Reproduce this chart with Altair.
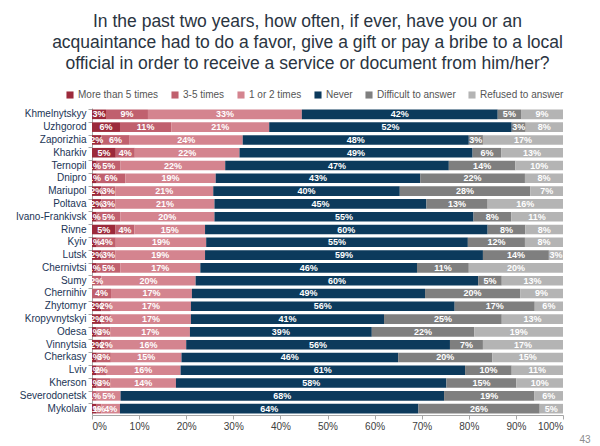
import altair as alt
import pandas as pd

cities = ["Khmelnytskyy", "Uzhgorod", "Zaporizhia", "Kharkiv", "Ternopil", "Dnipro",
          "Mariupol", "Poltava", "Ivano-Frankivsk", "Rivne", "Kyiv", "Lutsk",
          "Chernivtsi", "Sumy", "Chernihiv", "Zhytomyr", "Kropyvnytskyi", "Odesa",
          "Vinnytsia", "Cherkasy", "Lviv", "Kherson", "Severodonetsk", "Mykolaiv"]

more_than_5 = [3, 6, 2, 5, 1, 1, 2, 2, 1, 5, 1, 2, 1, 0, 0, 2, 2, 1, 2, 1, 1, 1, 0, 1]
three_to_5 = [9, 11, 6, 4, 5, 6, 3, 3, 5, 4, 4, 3, 5, 2, 4, 2, 2, 3, 2, 3, 2, 3, 1, 1]
one_or_2 = [33, 21, 24, 22, 22, 19, 21, 21, 20, 15, 19, 19, 17, 20, 17, 17, 17, 17, 16, 15, 16, 14, 5, 4]
never = [42, 52, 48, 49, 47, 43, 40, 45, 55, 60, 55, 59, 46, 60, 49, 56, 41, 39, 56, 46, 61, 58, 68, 64]
difficult = [5, 3, 3, 6, 14, 22, 28, 13, 8, 8, 12, 14, 11, 5, 20, 17, 25, 22, 7, 20, 10, 15, 19, 26]
refused = [9, 8, 17, 13, 10, 8, 7, 16, 11, 8, 8, 3, 20, 13, 9, 6, 13, 19, 17, 15, 11, 10, 6, 5]

series_names = ["More than 5 times", "3-5 times", "1 or 2 times", "Never",
                "Difficult to answer", "Refused to answer"]
series_values = [more_than_5, three_to_5, one_or_2, never, difficult, refused]
colors = ["#9c2a3b", "#c0606e", "#d4848f", "#0c3a5c", "#7f7f7f", "#b4b4b4"]

title_lines = ["In the past two years, how often, if ever, have you or an",
               "acquaintance had to do a favor, give a gift or pay a bribe to a local",
               "official in order to receive a service or document from him/her?"]
tick_values = [0, 0.1, 0.2, 0.3, 0.4, 0.5, 0.6, 0.7, 0.8, 0.9, 1.0]
page_number = "43"

rows = []
for si, (name, vals) in enumerate(zip(series_names, series_values)):
    for city, v in zip(cities, vals):
        rows.append({"city": city, "series": name, "order": si, "value": v})
df = pd.DataFrame(rows)

FONT = "Liberation Sans"


def build(use_encode):
    legend_kwargs = dict(
        orient="none", legendX=-27, legendY=-18, direction="horizontal", columns=6,
        title=None, symbolType="square", symbolSize=50, labelFontSize=10,
        labelFont=FONT, columnPadding=11, labelOffset=3, symbolStrokeWidth=0,
        labelColor="#555555",
    )
    if use_encode:
        legend_kwargs["encode"] = {
            "labels": {"update": {"fill": {"scale": "color", "field": "value"}}}
        }
    base = alt.Chart(df).transform_stack(
        stack="value", groupby=["city"], as_=["x0", "x1"], offset="normalize",
        sort=[alt.SortField("order", order="ascending")],
    )
    y_enc = alt.Y(
        "city:N", sort=cities, title=None,
        scale=alt.Scale(paddingInner=0.25, paddingOuter=0.12),
        axis=alt.Axis(labelFont=FONT, labelFontSize=10, labelColor="#1b3556",
                      domainColor="#a6a6a6", tickColor="#a6a6a6", tickSize=4,
                      bandPosition=0, labelPadding=2),
    )
    bars = base.mark_bar().encode(
        y=y_enc,
        x=alt.X("x0:Q", scale=alt.Scale(domain=[0, 1]),
                axis=alt.Axis(format=".0%", values=tick_values, grid=False,
                              labelFont=FONT, labelFontSize=10, labelColor="#404040",
                              domainColor="#a6a6a6", tickColor="#a6a6a6", tickSize=4,
                              title=page_number, titleX=487, titleY=19,
                              titleFont=FONT, titleFontSize=10, titleFontWeight="normal",
                              titleColor="#8c8c8c", titleAlign="left",
                              titleBaseline="top")),
        x2="x1:Q",
        color=alt.Color("series:N",
                        scale=alt.Scale(domain=series_names, range=colors),
                        legend=alt.Legend(**legend_kwargs)),
    )
    labels = base.transform_filter("datum.value > 0").transform_calculate(
        mid="(datum.x0 + datum.x1) / 2", label="datum.value + '%'"
    ).mark_text(color="white", fontSize=9, fontWeight="bold", font=FONT).encode(
        y=alt.Y("city:N", sort=cities),
        x="mid:Q",
        text="label:N",
    )
    chart = alt.layer(bars, labels).properties(
        width=471, height=307,
        title=alt.TitleParams(title_lines, font=FONT, fontSize=17.5, fontWeight="normal",
                              color="#2a3441", anchor="middle", dx=-20, offset=18,
                              lineHeight=21),
        autosize=alt.AutoSizeParams(type="none"),
        padding={"left": 84, "top": 100, "right": 29, "bottom": 30},
    ).configure_view(stroke=None)
    return chart


try:
    chart = build(True)
    chart.to_dict()
except Exception:
    chart = build(False)

chart.save("out.html", embed_options={"renderer": "svg", "actions": False})
